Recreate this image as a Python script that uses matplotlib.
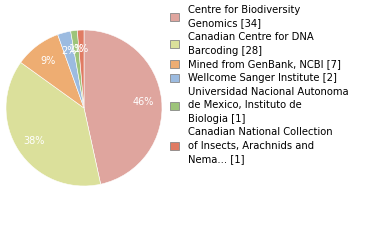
import math as m

import matplotlib
matplotlib.use('Agg')
import matplotlib.pyplot as plt
from matplotlib.patches import Patch

# data
labels = ['Centre for Biodiversity\nGenomics [34]',
          'Canadian Centre for DNA\nBarcoding [28]',
          'Mined from GenBank, NCBI [7]',
          'Wellcome Sanger Institute [2]',
          'Universidad Nacional Autonoma\nde Mexico, Instituto de\nBiologia [1]',
          'Canadian National Collection\nof Insects, Arachnids and\nNema... [1]']
counts = [34, 28, 7, 2, 1, 1]
colors = ['#dfa59e', '#dbe09b', '#eead72', '#9cbbe0', '#9dc47a', '#e07b63']

total = sum(counts)
pct_text = ['%d%%' % int(100.0 * c / total) for c in counts]

fig = plt.figure(figsize=(3.8, 2.4), dpi=100)
ax = fig.add_axes([6 / 380, 54 / 240, 156 / 380, 156 / 240])
wedges, _ = ax.pie(counts, colors=colors, startangle=90, counterclock=False,
                   wedgeprops=dict(edgecolor='white', linewidth=0.4))
ax.set_xlim(-1, 1)
ax.set_ylim(-1, 1)
ax.set_aspect('equal')

# percentage labels inside the slices
start = 90.0
for c, t in zip(counts, pct_text):
    span = 360.0 * c / total
    mid = m.radians(start - span / 2)
    r = 0.76
    ax.text(r * m.cos(mid), r * m.sin(mid), t, color='white', fontsize=7,
            ha='center', va='center')
    start -= span

handles = [Patch(facecolor=col, edgecolor='#888888', linewidth=0.6) for col in colors]
leg = fig.legend(handles, labels, loc='upper left',
                 bbox_to_anchor=(168 / 380, 1 - 3 / 240),
                 frameon=False, fontsize=7.2, handlelength=0.85, handleheight=0.85,
                 handletextpad=0.9, labelspacing=0.38, borderaxespad=0.0,
                 borderpad=0.2)
for t in leg.get_texts():
    t.set_linespacing(1.42)

fig.savefig('out.png', dpi=100)
